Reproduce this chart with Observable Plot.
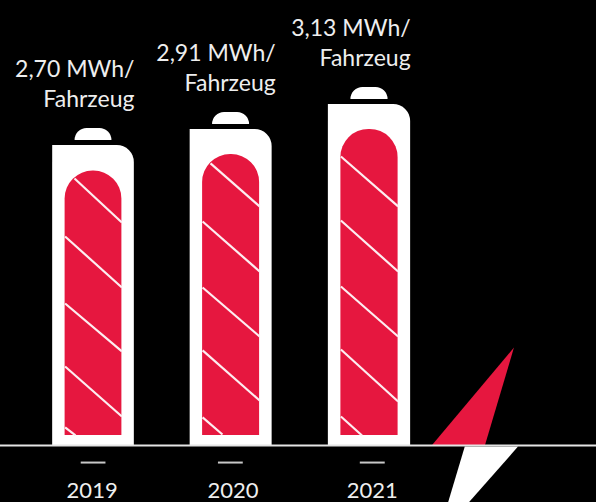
<!DOCTYPE html>
<html>
<head>
<meta charset="utf-8">
<style>html,body{margin:0;padding:0;background:#000;overflow:hidden}svg{display:block}</style>
<script src="https://cdn.jsdelivr.net/npm/d3@7"></script>
<script src="https://cdn.jsdelivr.net/npm/@observablehq/plot@0.6"></script>
</head>
<body>
<div id="chart"></div>
<script>
const years = [2019, 2020, 2021];
const values = [2.70, 2.91, 3.13];
// Drawn heights of the battery parts (same y unit for all)
const bodyTop = [2.727, 2.873, 3.1];
const fuelTop = [2.495, 2.645, 2.873];
const capBase = [2.773, 2.918, 3.145];
const capTop = [2.882, 3.027, 3.255];
const fuelBase = 0.091;
// Label anchor positions on the x scale
const labelX = [2019.298, 2020.323, 2021.297];
const yearLabelX = [2018.99, 2020.015, 2021.02];
const dashX = [2018.997, 2019.995, 2021.02];
// Diagonal stripes: year index, x offsets from the bar centre, left y, right y
const stripeYear = [0,0,0,0,0, 1,1,1,1,1, 2,2,2,2,2];
const stripeXL = [-0.138,-0.2065,-0.2065,-0.2065,-0.2065, -0.149,-0.2065,-0.2065,-0.2065,-0.2065, -0.2065,-0.2065,-0.2065,-0.2065,-0.2065];
const stripeXR = [0.2065,0.2065,0.2065,0.2065,-0.131, 0.2065,0.2065,0.2065,0.2065,-0.062, 0.2065,0.2065,0.2065,0.2065,-0.054];
const stripeYL = [2.427,1.9,1.291,0.718,0.164, 2.564,2.036,1.436,0.864,0.255, 2.627,2.045,1.445,0.873,0.264];
const stripeYR = [2.027,1.436,0.855,0.264,0.091, 2.173,1.582,0.991,0.409,0.1, 2.173,1.582,0.991,0.4,0.091];
// Lightning bolt outline
const boltRedX = [2021.449, 2022.043, 2021.833];
const boltRedY = [0, 0.89, 0];
const boltWhiteX = [2021.688, 2022.072, 2021.71, 2021.565];
const boltWhiteY = [-0.01, -0.01, -0.527, -0.527];

const RED = "#e6173f";
const FONT = "Lato";
const idx = years.map((_, i) => i);
const sIdx = stripeYear.map((_, i) => i);
const halfBody = 0.297, halfFuel = 0.2065, halfCap = 0.134;
const label = (v) => v.toFixed(2).replace(".", ",") + " MWh/\nFahrzeug";

const chart = Plot.plot({
  width: 596, height: 502,
  marginTop: 0, marginLeft: 0, marginRight: 0, marginBottom: 57,
  style: {background: "#000", fontFamily: FONT},
  x: {type: "linear", domain: years, range: [93, 230.5, 369], axis: null},
  y: {type: "linear", domain: [0, 4.045], range: [445, 0], axis: null},
  marks: [
    Plot.line(boltRedX.map((x, i) => ({x, y: boltRedY[i]})), {x: "x", y: "y", fill: RED, stroke: null}),
    Plot.line(boltWhiteX.map((x, i) => ({x, y: boltWhiteY[i]})), {x: "x", y: "y", fill: "#fff", stroke: null}),
    Plot.rect(idx, {
      x1: i => years[i] - halfBody, x2: i => years[i] + halfBody,
      y1: 0, y2: i => bodyTop[i], fill: "#fff", rx2y2: 17
    }),
    Plot.rect(idx, {
      x1: i => years[i] - halfCap, x2: i => years[i] + halfCap,
      y1: i => capBase[i], y2: i => capTop[i], fill: "#fff", rx1y2: 12, rx2y2: 12
    }),
    Plot.rect(idx, {
      x1: i => years[i] - halfFuel, x2: i => years[i] + halfFuel,
      y1: fuelBase, y2: i => fuelTop[i], fill: RED, rx1y2: 28, rx2y2: 28
    }),
    Plot.link(sIdx, {
      x1: i => years[stripeYear[i]] + stripeXL[i],
      x2: i => years[stripeYear[i]] + stripeXR[i],
      y1: i => stripeYL[i], y2: i => stripeYR[i],
      stroke: "#fdeef1", strokeWidth: 2.2
    }),
    Plot.ruleY([0], {stroke: "#e4e4e4", strokeWidth: 2}),
    Plot.link(idx, {
      x1: i => dashX[i] - 0.09, x2: i => dashX[i] + 0.09, y1: () => -0.155, y2: () => -0.155,
      stroke: "#c8c8c8", strokeWidth: 2
    }),
    Plot.text(idx, {
      x: i => labelX[i], y: i => bodyTop[i], text: i => label(values[i]),
      dy: -63, textAnchor: "end", fontSize: 23, fontWeight: 400, lineHeight: 1.28, fill: "#eee"
    }),
    Plot.text(idx, {
      x: i => yearLabelX[i], y: () => -0.41, text: i => String(years[i]),
      fontSize: 22, fontWeight: 400, fill: "#eee"
    })
  ]
});
document.getElementById("chart").append(chart);
</script>
</body>
</html>
